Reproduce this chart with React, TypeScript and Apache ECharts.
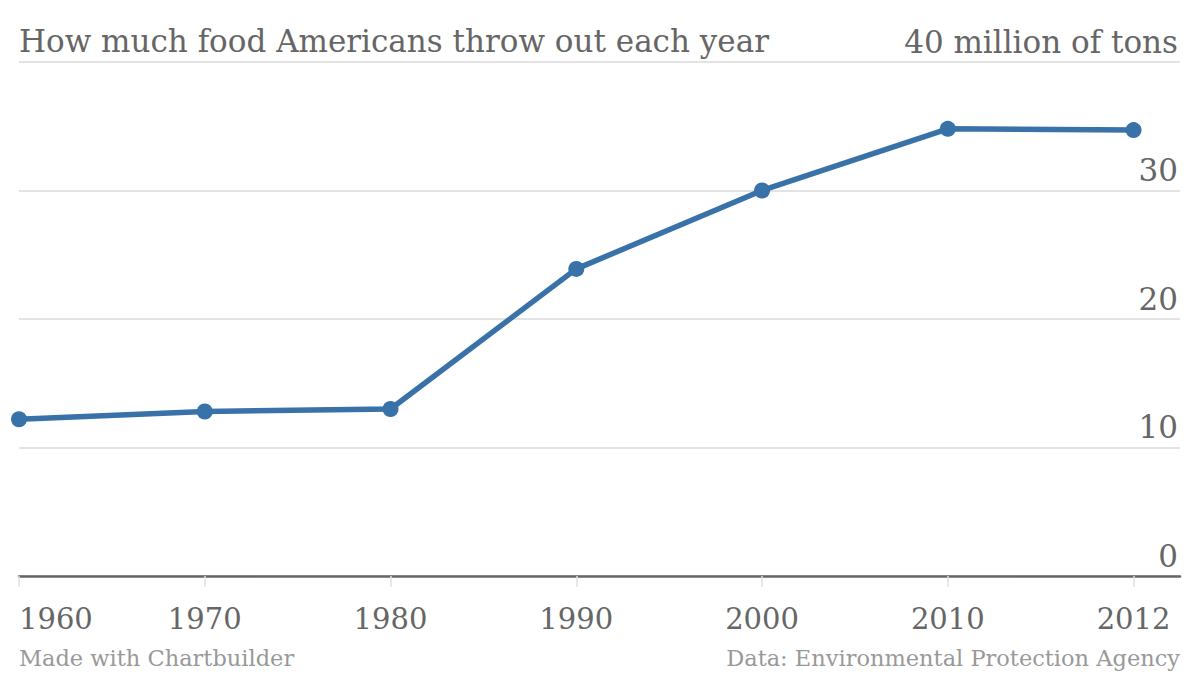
import {useEffect, useRef} from 'react';
import * as echarts from 'echarts';

const years = ['1960', '1970', '1980', '1990', '2000', '2010', '2012'];
const tons = [12.2, 12.8, 13.0, 23.9, 30.0, 34.8, 34.7];
const yTicks = [0, 10, 20, 30, 40];
const unit = 'million of tons';

const FONT = '"DejaVu Serif", serif';
const TEXT = '#666666';
const BLUE = '#3872a8';

export default function App() {
    const ref = useRef<HTMLDivElement | null>(null);

    useEffect(() => {
        if (!ref.current) return;
        const chart = echarts.init(ref.current, null, {renderer: 'svg'});
        const idx = years.map((_, i) => i);

        chart.setOption({
            animation: false,
            grid: {left: 19, right: 20, top: 62, bottom: 100},
            graphic: [
                {type: 'text', left: 19, top: 25, style: {text: 'How much food Americans throw out each year', font: `31px ${FONT}`, fill: TEXT}},
                {type: 'text', left: 19, top: 646, style: {text: 'Made with Chartbuilder', font: `22.5px ${FONT}`, fill: '#999999'}},
                {type: 'text', right: 20, top: 646, style: {text: 'Data: Environmental Protection Agency', font: `22.5px ${FONT}`, fill: '#999999'}}
            ],
            xAxis: [
                {
                    type: 'value', min: 0, max: 6.25, interval: 1,
                    axisLine: {show: true, onZero: false, lineStyle: {color: '#666666', width: 2.5}},
                    axisTick: {show: false}, axisLabel: {show: false}, splitLine: {show: false}
                },
                {
                    type: 'value', min: 0, max: 6.25, interval: 1, position: 'bottom', offset: 16,
                    axisLine: {show: false},
                    axisTick: {show: true, length: 11, customValues: idx, lineStyle: {color: '#e0e0e0', width: 1.5}},
                    axisLabel: {
                        customValues: idx, margin: 12, fontSize: 29, fontFamily: FONT, color: TEXT,
                        alignMinLabel: 'left',
                        formatter: (v: number) => years[Math.round(v)] ?? ''
                    },
                    splitLine: {show: false}
                }
            ],
            yAxis: {
                type: 'value', position: 'right', min: 0, max: 40, interval: 10,
                axisLine: {show: false}, axisTick: {show: false},
                splitLine: {lineStyle: {color: '#e3e3e3', width: 2}},
                axisLabel: {
                    inside: true, align: 'right', verticalAlign: 'bottom', margin: 2,
                    padding: [0, 0, 5, 0],
                    fontSize: 31, fontFamily: FONT, color: TEXT,
                    formatter: (v: number) => (v === yTicks[yTicks.length - 1] ? `${v} ${unit}` : `${v}`)
                }
            },
            series: [{
                type: 'line',
                xAxisIndex: 0,
                data: tons.map((t, i) => [i, t]),
                lineStyle: {color: BLUE, width: 5.5},
                itemStyle: {color: BLUE},
                symbol: 'circle', symbolSize: 16,
                showSymbol: true
            }]
        });

        return () => chart.dispose();
    }, []);

    return <div ref={ref} style={{position: 'absolute', left: 0, top: 0, width: 1200, height: 676}}/>;
}
